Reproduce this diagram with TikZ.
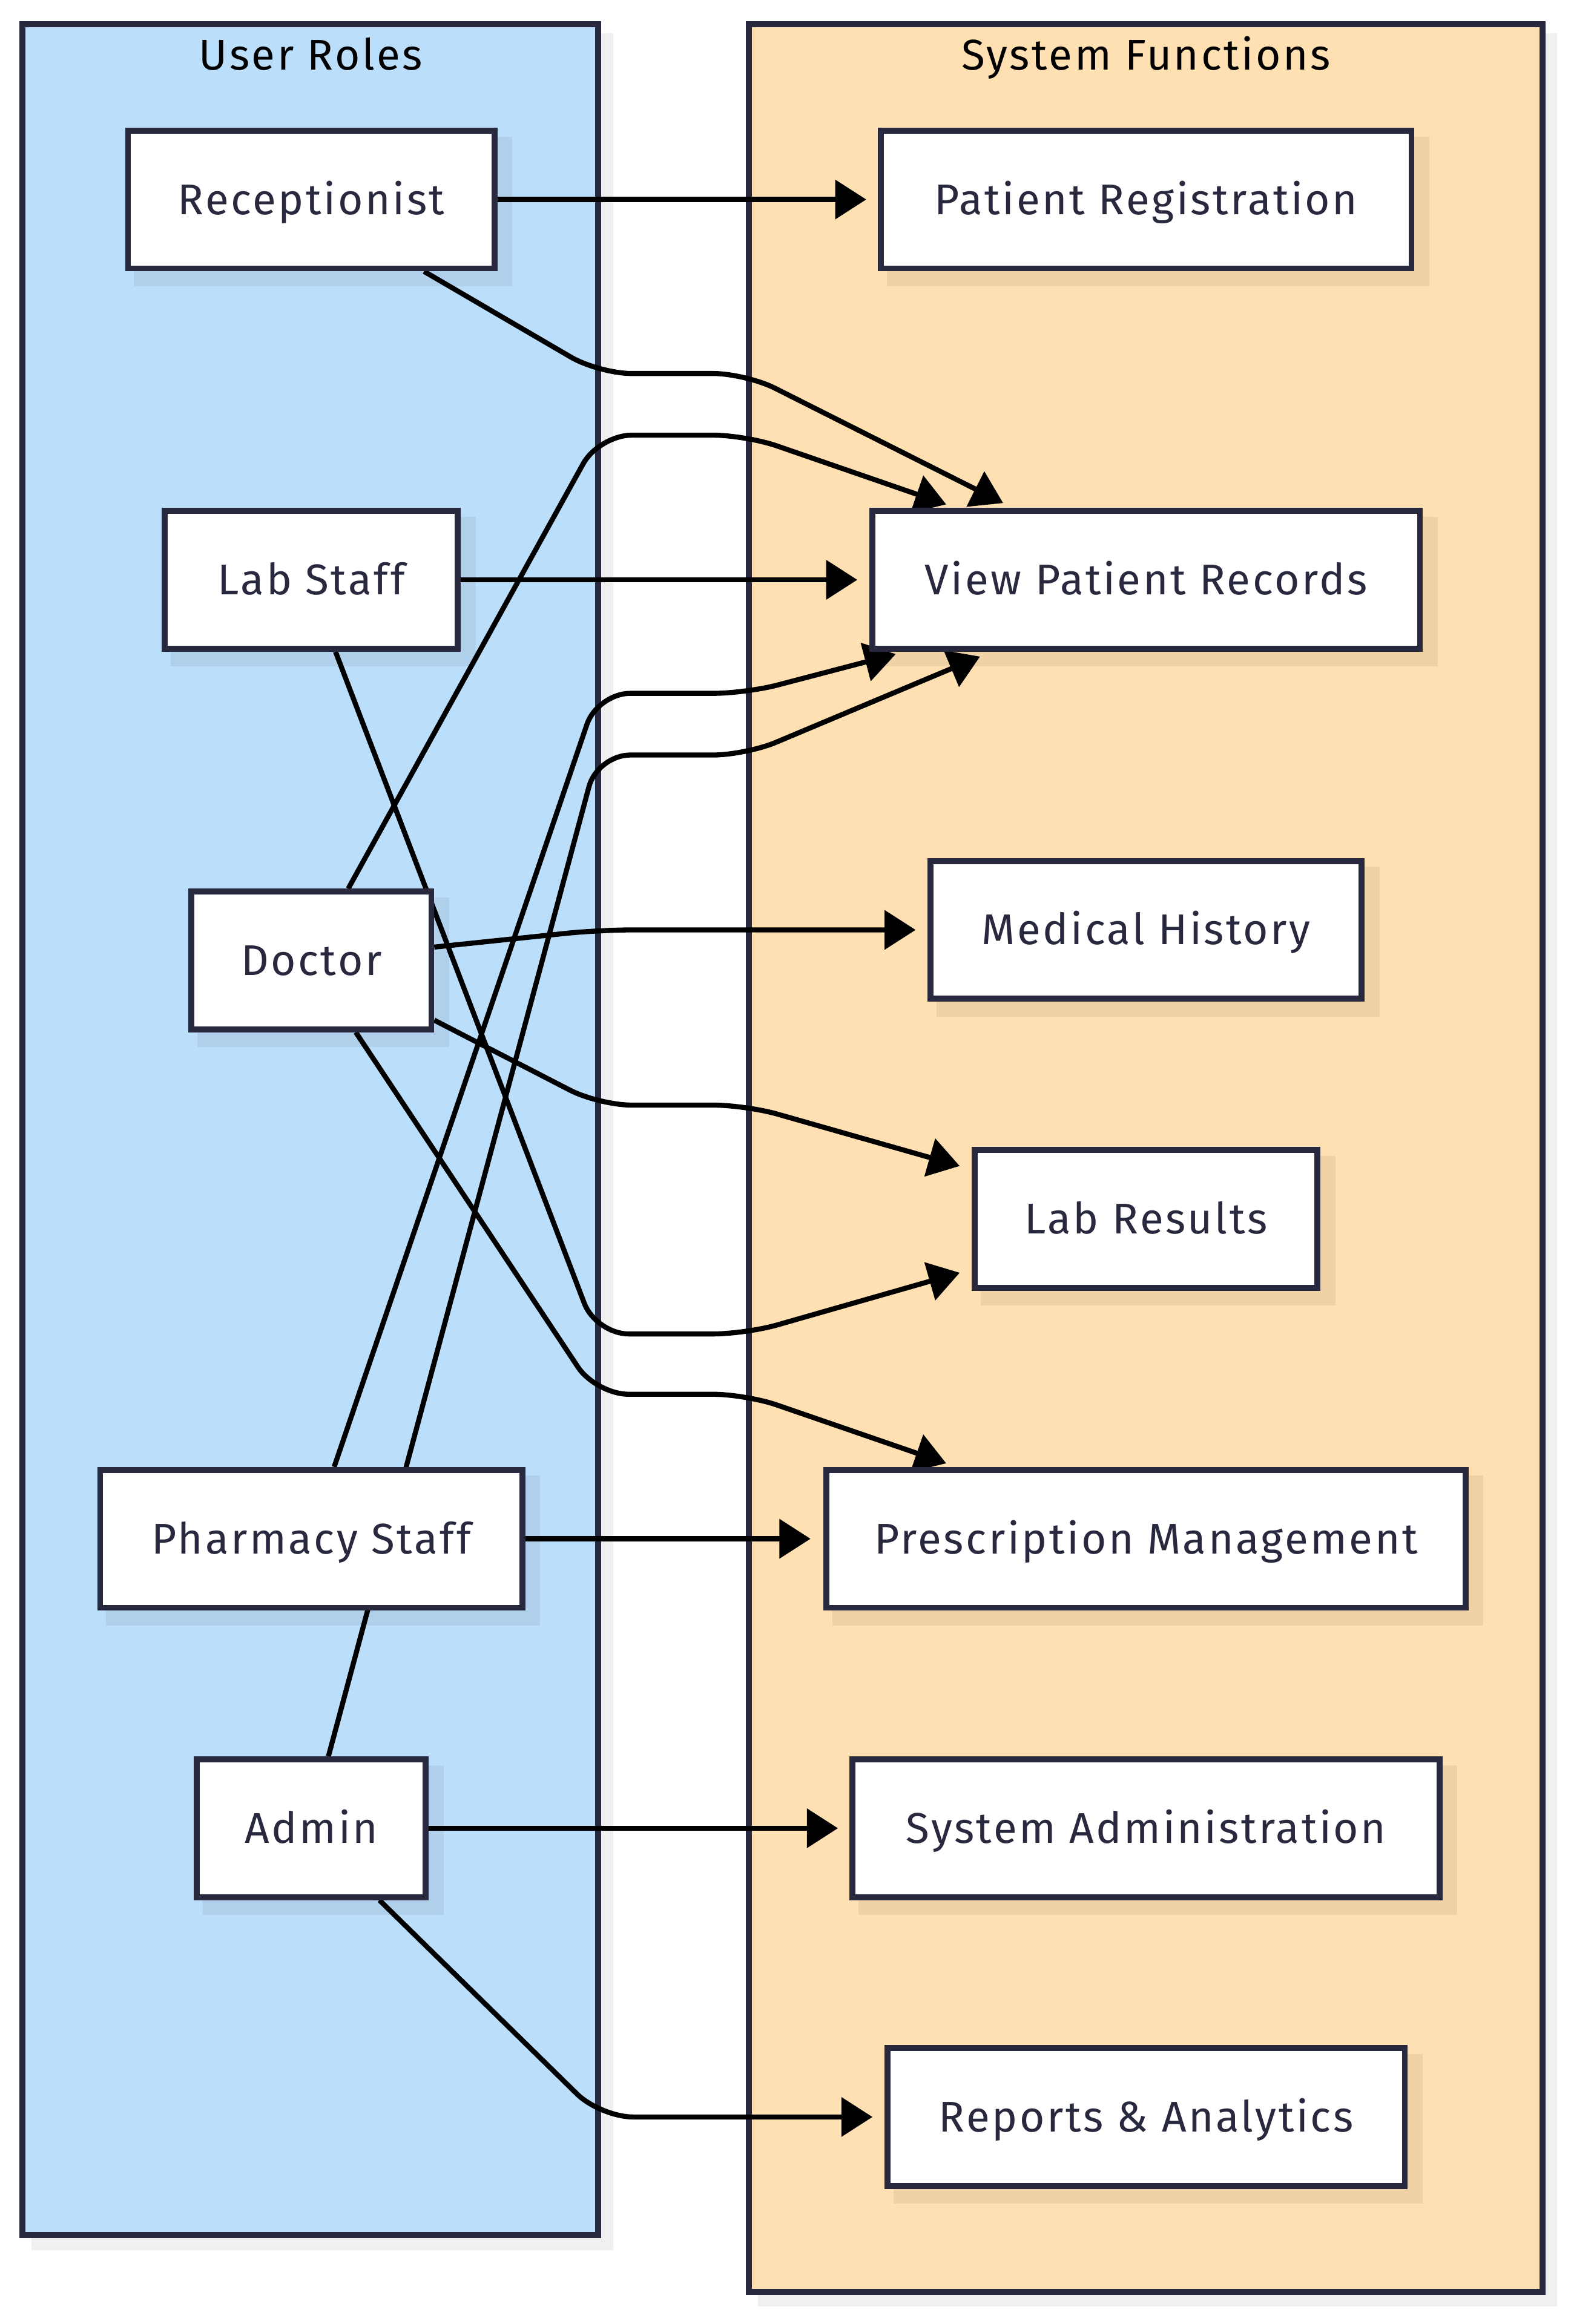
\documentclass[tikz,border=0pt]{standalone}
\usepackage{fontspec}
\setmainfont{Fira Sans}[LetterSpace=5]
\usetikzlibrary{arrows.meta,calc}
\pgfdeclarelayer{bg}
\pgfdeclarelayer{shad}
\pgfdeclarelayer{edg}
\pgfsetlayers{bg,shad,edg,main}
\definecolor{bluefill}{HTML}{BBDEFB}
\definecolor{peachfill}{HTML}{FFE0B2}
\definecolor{bord}{HTML}{28283E}
\definecolor{txt}{HTML}{28283E}
\newcommand\diagfont{\fontsize{29pt}{34pt}\selectfont}
\tikzset{
  box/.style={draw=bord, line width=4pt, fill=white, minimum height=93pt,
    inner sep=0pt, text=txt, font=\diagfont, text height=20pt, text depth=0pt},
  conn/.style={draw=black, line width=3.4pt, rounded corners=22pt,
    -{Triangle[length=21pt,width=26pt]}},
  shadowfill/.style={fill=black, fill opacity=0.06},
  cluster/.style={draw=bord, line width=4pt},
  ctitle/.style={font=\diagfont, text=black, anchor=base, inner sep=0pt}
}
\begin{document}
\begin{tikzpicture}[x=1pt,y=-1pt]
\useasboundingbox (0,0) rectangle (1059.6,1568);
% clusters
\begin{pgfonlayer}{bg}
  \path[shadowfill] (21.2,22.3) rectangle (413.5,1518);
  \path[shadowfill] (511.2,22.3) rectangle (1050.4,1556.2);
  \path[cluster, fill=bluefill] (15.2,16.3) rectangle (403.5,1508);
  \path[cluster, fill=peachfill] (505.2,16.3) rectangle (1040.4,1546.2);
\end{pgfonlayer}
\node[ctitle] (t1) at (209.6,47.3) {User Roles};
\node[ctitle] (t2) at (773,47.3) {System Functions};
% nodes
\node[box, minimum width=247.2pt] (rec) at (210,134.6) {Receptionist};
\node[box, minimum width=197.7pt] (lab) at (210,391.2) {Lab Staff};
\node[box, minimum width=161.8pt] (doc) at (210,648) {Doctor};
\node[box, minimum width=284.8pt] (pha) at (210,1038.2) {Pharmacy Staff};
\node[box, minimum width=154.3pt] (adm) at (210,1233.5) {Admin};
\node[box, minimum width=358pt] (pr) at (773,134.6) {Patient Registration};
\node[box, minimum width=369.5pt] (vpr) at (773,391.2) {View Patient Records};
\node[box, minimum width=290.8pt] (mh) at (773,627.4) {Medical History};
\node[box, minimum width=231.2pt] (lr) at (773,822.3) {Lab Results};
\node[box, minimum width=431.2pt] (pm) at (773,1038.2) {Prescription Management};
\node[box, minimum width=396pt] (sa) at (773,1233.5) {System Administration};
\node[box, minimum width=349pt] (ra) at (773,1428.3) {Reports \& Analytics};
% node shadows
\begin{pgfonlayer}{shad}
  \foreach \n in {rec,lab,doc,pha,adm,pr,vpr,mh,lr,pm,sa,ra}
    \path[shadowfill] ([shift={(6,6)}]\n.north west) rectangle ([shift={(10,10)}]\n.south east);
\end{pgfonlayer}
% connectors
\begin{pgfonlayer}{edg}
  \draw[conn] (rec.east) -- ([xshift=-7.7pt]pr.west);
  \draw[conn] ($(rec.south)+(76,0)$) -- (404,252) -- (503,252) -- ($(vpr.north)+(-96.4,-3.3)$);
  \draw[conn] (lab.east) -- ([xshift=-8pt]vpr.west);
  \draw[conn] ($(lab.south)+(16.3,0)$) -- (402,900) -- (503,900) -- ($(lr.west)+(-8.1,36.4)$);
  \draw[conn] ($(doc.north)+(24.9,0)$) -- (404,293.6) -- (503,293.6) -- ($(vpr.north)+(-134.8,-2.4)$);
  \draw[conn] ($(doc.east)+(0,-9)$) -- (404,627.4) -- ([xshift=-8pt]mh.west);
  \draw[conn] ($(doc.east)+(0,40.3)$) -- (404,745.6) -- (503,745.6) -- ($(lr.west)+(-8.1,-35.6)$);
  \draw[conn] ($(doc.south)+(30,0)$) -- (402,940.7) -- (503,940.7) -- ($(pm.north)+(-134.8,-2.4)$);
  \draw[conn] ($(pha.north)+(15.4,0)$) -- (403,467.8) -- (503,467.8) -- ($(vpr.south)+(-168.8,1.6)$);
  \draw[conn] (pha.east) -- ([xshift=-8.7pt]pm.west);
  \draw[conn] ($(adm.north)+(11.5,0)$) -- (403,509.4) -- (503,509.4) -- ($(vpr.south)+(-112,3.3)$);
  \draw[conn] (adm.east) -- ([xshift=-7.8pt]sa.west);
  \draw[conn] ($(adm.south)+(45.9,0)$) -- (405,1428.3) -- ([xshift=-8pt]ra.west);
\end{pgfonlayer}
\end{tikzpicture}
\end{document}
